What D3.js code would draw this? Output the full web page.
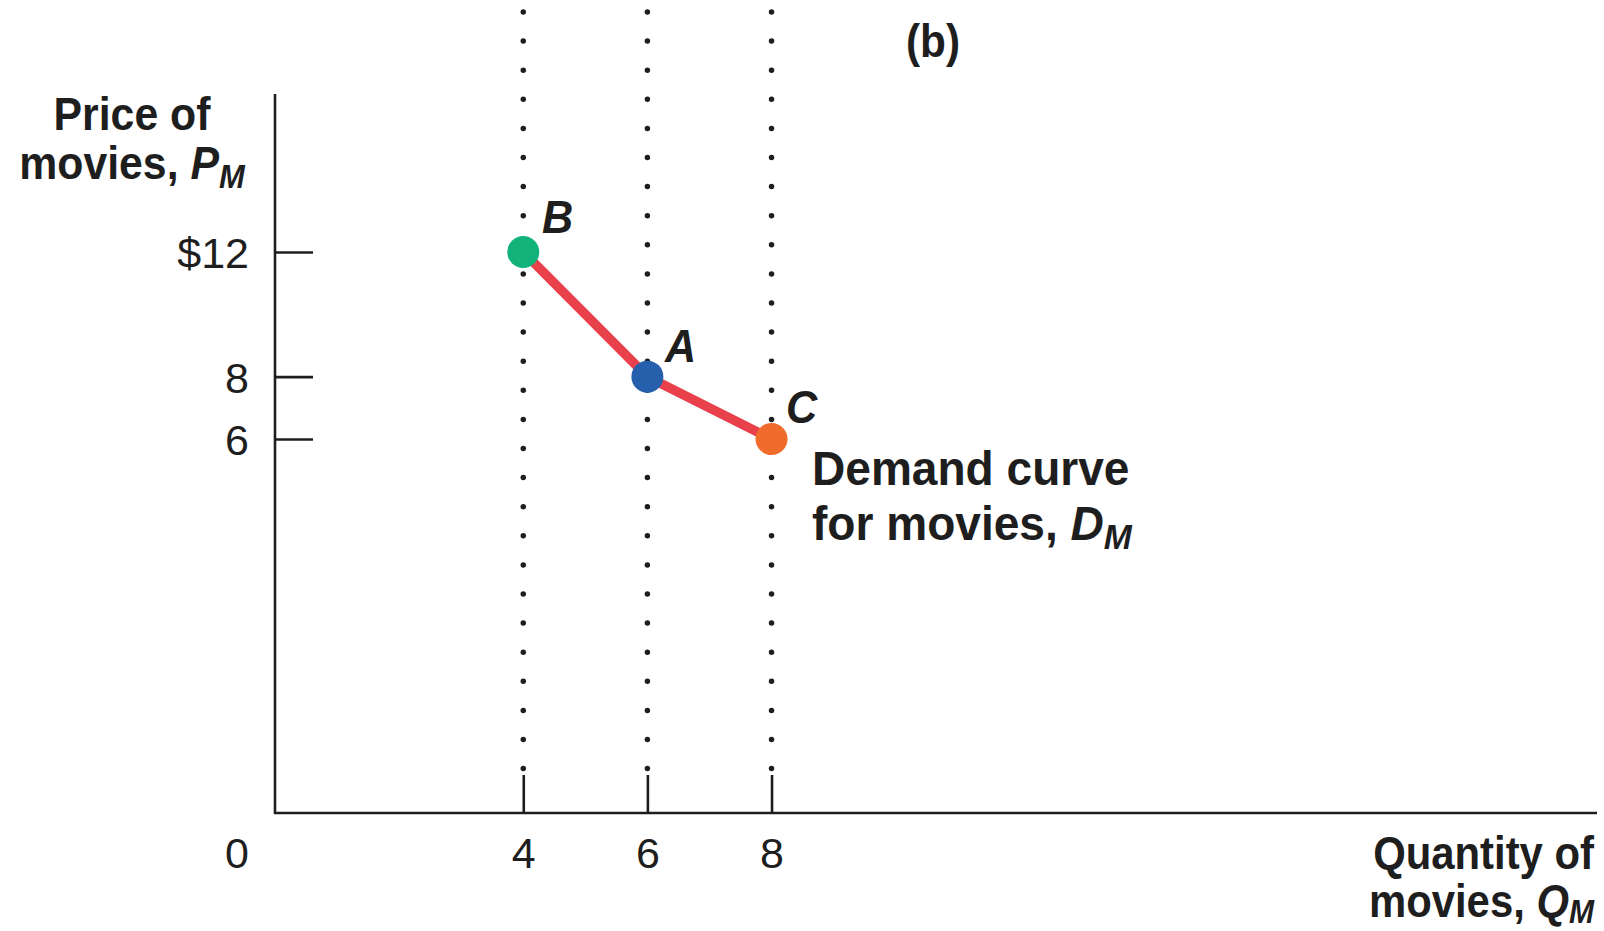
<!DOCTYPE html>
<html>
<head>
<meta charset="utf-8">
<script src="https://cdn.jsdelivr.net/npm/d3@7"></script>
<style>
  html, body { margin: 0; padding: 0; background: #fff; }
  svg { display: block; }
</style>
</head>
<body>
<svg id="chart" width="1604" height="931"></svg>
<script>
// Data
const quantities = [4, 6, 8];
const prices = [12, 8, 6];
const pointNames = ["B", "A", "C"];
const pointColors = ["#12b27b", "#2660ad", "#f06c2c"];
const xTicks = [4, 6, 8];
const yTicks = [12, 8, 6];
const yTickLabels = ["$12", "8", "6"];

// Layout
const width = 1604, height = 931;
const axisLeftX = 275, axisRightX = 1597;
const axisTopY = 94, axisBottomY = 813;
const ink = "#1e1e1e";
const boldFont = "'Liberation Sans', Arial, sans-serif";

const svg = d3.select("#chart");

// x is linear from the origin, y only spans the labelled prices
const xscale = d3.scaleLinear()
    .domain([0, 21.3])
    .range([axisLeftX, axisRightX]);

const yscale = d3.scaleLinear()
    .domain([6, 12])
    .range([439, 252]);

// Dotted guides at each quantity
svg.append("g")
    .selectAll("line")
    .data(quantities)
    .join("line")
    .attr("x1", d => xscale(d))
    .attr("x2", d => xscale(d))
    .attr("y1", 12)
    .attr("y2", 772)
    .attr("stroke", ink)
    .attr("stroke-width", 5.5)
    .attr("stroke-linecap", "round")
    .attr("stroke-dasharray", "0 29.1");

// Axis lines
svg.append("line")
    .attr("x1", axisLeftX).attr("x2", axisLeftX)
    .attr("y1", axisTopY).attr("y2", axisBottomY + 1)
    .attr("stroke", ink).attr("stroke-width", 2.6);
svg.append("line")
    .attr("x1", axisLeftX - 1).attr("x2", axisRightX)
    .attr("y1", axisBottomY).attr("y2", axisBottomY)
    .attr("stroke", ink).attr("stroke-width", 2.6);

// Y axis ticks (pointing inwards)
var y_axis = d3.axisLeft(yscale)
    .tickValues(yTicks)
    .tickSizeInner(-38)
    .tickSizeOuter(0)
    .tickPadding(26)
    .tickFormat((d, i) => yTickLabels[i]);

const gy = svg.append("g")
    .attr("transform", "translate(" + axisLeftX + ",0)")
    .call(y_axis);
gy.select(".domain").remove();
gy.selectAll(".tick line").attr("stroke", ink).attr("stroke-width", 2.6);
gy.selectAll(".tick text")
    .attr("fill", ink)
    .attr("dy", "0.36em")
    .style("font-family", boldFont)
    .style("font-size", "43px");

// X axis ticks (pointing inwards)
var x_axis = d3.axisBottom(xscale)
    .tickValues(xTicks)
    .tickSizeInner(-38)
    .tickSizeOuter(0)
    .tickPadding(24)
    .tickFormat(d3.format("d"));

const gx = svg.append("g")
    .attr("transform", "translate(0," + axisBottomY + ")")
    .call(x_axis);
gx.select(".domain").remove();
gx.selectAll(".tick line").attr("stroke", ink).attr("stroke-width", 2.6);
gx.selectAll(".tick text")
    .attr("fill", ink)
    .style("font-family", boldFont)
    .style("font-size", "43px");

// Origin label
svg.append("text")
    .attr("x", 237).attr("y", 868)
    .attr("text-anchor", "middle")
    .attr("fill", ink)
    .style("font-family", boldFont)
    .style("font-size", "43px")
    .text("0");

// Demand curve
const line = d3.line()
    .x((d, i) => xscale(quantities[i]))
    .y((d, i) => yscale(prices[i]));

svg.append("path")
    .datum(quantities)
    .attr("d", line)
    .attr("fill", "none")
    .attr("stroke", "#e8414c")
    .attr("stroke-width", 9.5)
    .attr("stroke-linejoin", "round");

svg.append("g")
    .selectAll("circle")
    .data(quantities)
    .join("circle")
    .attr("cx", d => xscale(d))
    .attr("cy", (d, i) => yscale(prices[i]))
    .attr("r", 16)
    .attr("fill", (d, i) => pointColors[i]);

// Helper for condensed bold labels: lines = [[text, italic, sub], ...]
function label(x, y, anchor, lines, lineGap, size, sx, subDy) {
    const g = svg.append("g")
        .attr("transform", "translate(" + x + "," + y + ") scale(" + sx + ",1)");
    lines.forEach((parts, li) => {
        const t = g.append("text")
            .attr("x", 0)
            .attr("y", li * lineGap)
            .attr("text-anchor", anchor)
            .attr("fill", ink)
            .style("font-family", boldFont)
            .style("font-weight", "bold")
            .style("font-size", size + "px");
        parts.forEach(p => {
            const ts = t.append("tspan").text(p[0]);
            if (p[1]) ts.style("font-style", "italic");
            if (p[2]) ts.style("font-size", Math.round(size * 0.72) + "px").attr("dy", subDy || 9);
        });
    });
}

// Panel tag
label(933, 57, "middle", [[["(b)"]]], 0, 46, 0.92);

// Axis titles
label(132, 130, "middle", [[["Price of"]], [["movies, "], ["P", true], ["M", true, true]]], 49, 47, 0.91);
label(1594, 869, "end", [[["Quantity of"]], [["movies, "], ["Q", true], ["M", true, true]]], 48, 46, 0.91, 6);

// Curve label
label(812, 485, "start", [[["Demand curve"]], [["for movies, "], ["D", true], ["M", true, true]]], 55, 48, 0.96);

// Point letters
const letterPos = [[542, 233], [665, 362], [786, 423]];
pointNames.forEach((n, i) => {
    label(letterPos[i][0], letterPos[i][1], "start", [[[n, true]]], 0, 47, 0.92);
});
</script>
</body>
</html>
